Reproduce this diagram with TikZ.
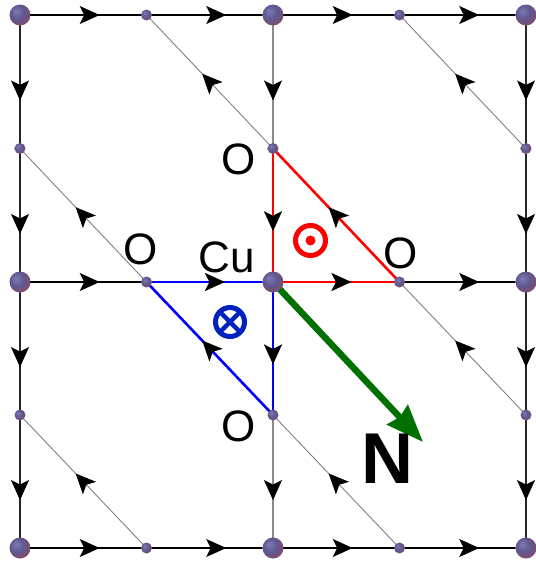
\documentclass[tikz,border=0pt]{standalone}
\usepackage{fontspec}
\setmainfont{Liberation Sans}
\usetikzlibrary{arrows.meta,decorations.markings}
\definecolor{sphA}{RGB}{125,125,180}
\definecolor{sphB}{RGB}{95,88,145}
\definecolor{sphC}{RGB}{140,70,95}
\definecolor{gdark}{RGB}{0,112,0}
\definecolor{oblue}{RGB}{0,34,190}
\pgfdeclareradialshading{sphshade}{\pgfpoint{-10bp}{10bp}}{color(0bp)=(sphA); color(16bp)=(sphB); color(34bp)=(sphC); color(50bp)=(sphC)}
\begin{document}
\begin{tikzpicture}[x=1pt,y=-1pt,
  midarrow/.style={postaction={decorate},decoration={markings,mark=at position #1 with {\arrow{Stealth[length=20pt,width=18pt,inset=4.5pt,color=black,fill=black]}}}},
  midarrow/.default=0.6,
  hline/.style={black,line width=1.3pt,midarrow=0.63},
  vline/.style={black!85,line width=1.3pt,midarrow=0.64},
  vlinegray/.style={black!45,line width=1.8pt,midarrow=0.64},
  dline/.style={black!50,line width=0.9pt,midarrow=0.56},
  redline/.style={red,line width=2.6pt},
  blueline/.style={blue,line width=2.6pt},
  bigsph/.style={circle,inner sep=0pt,minimum size=21pt,shading=sphshade},
  smallsph/.style={circle,inner sep=0pt,minimum size=11pt,shading=sphshade},
  lab/.style={inner sep=0pt,font=\fontsize{44}{44}\selectfont},
  nlab/.style={inner sep=0pt,font=\fontsize{72}{72}\selectfont\bfseries}]
\useasboundingbox (0,0) rectangle (536,563);
% grid coordinates
\foreach \i/\xx in {0/20,1/146.5,2/273,3/399.5,4/526}{
  \foreach \j/\yy in {0/15,1/148.5,2/282,3/415,4/548}{
    \coordinate (p-\i-\j) at (\xx,\yy);
  }
}
% horizontal bonds
\foreach \a/\b/\r in {0/1/0,1/2/0,2/3/0,3/4/0,0/1/2,3/4/2,0/1/4,1/2/4,2/3/4,3/4/4}{
  \draw[hline] (p-\a-\r) -- (p-\b-\r);
}
% vertical bonds
\foreach \c/\a/\b in {0/0/1,0/1/2,0/2/3,0/3/4,4/0/1,4/1/2,4/2/3,4/3/4}{
  \draw[vline] (p-\c-\a) -- (p-\c-\b);
}
\foreach \c/\a/\b in {2/0/1,2/3/4}{
  \draw[vlinegray] (p-\c-\a) -- (p-\c-\b);
}
% diagonal bonds (from lower right to upper left)
\foreach \a/\b/\c/\d in {2/1/1/0,4/1/3/0,1/2/0/1,4/3/3/2,1/4/0/3,3/4/2/3}{
  \draw[dline] (p-\a-\b) -- (p-\c-\d);
}
% red triangle
\draw[redline,midarrow=0.62] (p-2-1) -- (p-2-2);
\draw[redline,midarrow=0.62] (p-2-2) -- (p-3-2);
\draw[redline,midarrow=0.56] (p-3-2) -- (p-2-1);
% blue triangle
\draw[blueline,midarrow=0.62] (p-1-2) -- (p-2-2);
\draw[blueline,midarrow=0.62] (p-2-2) -- (p-2-3);
\draw[blueline,midarrow=0.56] (p-2-3) -- (p-1-2);
% green arrow
\coordinate (gtip) at (423,442);
\draw[gdark,line width=6.5pt,-{Stealth[length=37pt,width=28pt,inset=3pt]}] (p-2-2) -- (gtip);
% spheres
\foreach \i/\j in {0/0,2/0,4/0,0/2,2/2,4/2,0/4,2/4,4/4}{
  \node[bigsph] (s-\i-\j) at (p-\i-\j) {};
}
\foreach \i/\j in {1/0,3/0,0/1,2/1,4/1,1/2,3/2,0/3,2/3,4/3,1/4,3/4}{
  \node[smallsph] (s-\i-\j) at (p-\i-\j) {};
}
% symbols
\node[circle,draw=red,line width=5pt,minimum size=30pt,inner sep=0pt] (odot) at (310.5,240.5) {};
\fill[red] (odot.center) circle (5);
\node[circle,draw=oblue,line width=5pt,minimum size=29pt,inner sep=0pt] (otimes) at (230,322) {};
\draw[oblue,line width=4.5pt] (otimes.center) +(-10.5,-10.5) -- +(10.5,10.5);
\draw[oblue,line width=4.5pt] (otimes.center) +(-10.5,10.5) -- +(10.5,-10.5);
% labels
\node[lab] (lo1) at (239,159) {O};
\node[lab] (lcu) at (227,257) {Cu};
\node[lab] (lo2) at (401,253) {O};
\node[lab] (lo3) at (141,249) {O};
\node[lab] (lo4) at (239,426) {O};
\node[nlab] (ln) at (387.5,459) {N};
\end{tikzpicture}
\end{document}
